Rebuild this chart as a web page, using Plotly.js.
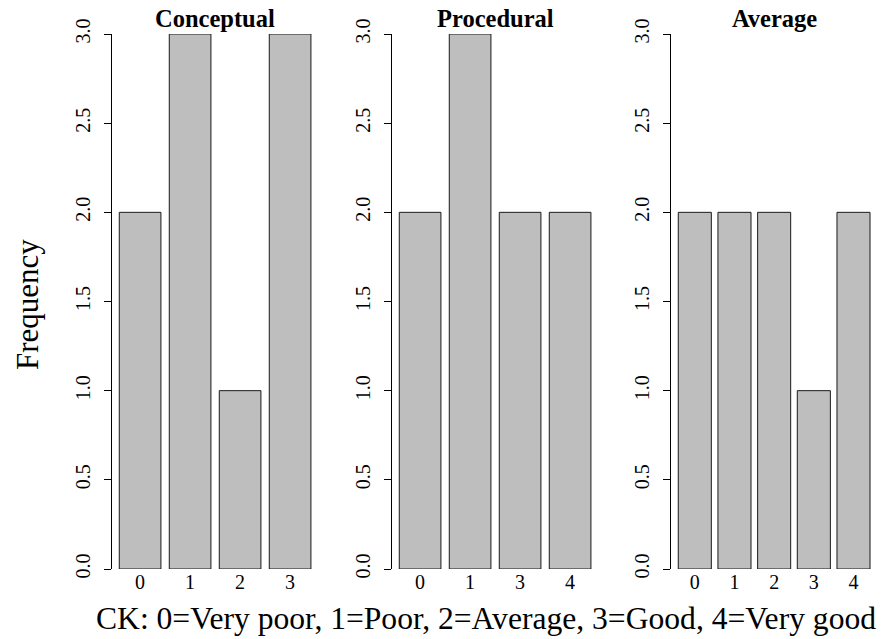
<!DOCTYPE html>
<html>
<head>
<meta charset="utf-8">
<script src="https://cdn.plot.ly/plotly-3.0.1.min.js"></script>
<style>html,body{margin:0;padding:0;background:#fff;}#chart{width:884px;height:639px;}</style>
</head>
<body>
<div id="chart"></div>
<script>
const panelTitles = ['Conceptual', 'Procedural', 'Average'];
const conceptualCats = ['0', '1', '2', '3'];
const conceptualFreq = [2, 3, 1, 3];
const proceduralCats = ['0', '1', '3', '4'];
const proceduralFreq = [2, 3, 2, 2];
const averageCats = ['0', '1', '2', '3', '4'];
const averageFreq = [2, 2, 2, 1, 2];
const yTickVals = [0, 0.5, 1, 1.5, 2, 2.5, 3];
const yAxisTitle = 'Frequency';
const xAxisCaption = 'CK: 0=Very poor, 1=Poor, 2=Average, 3=Good, 4=Very good';

const FONT = 'Liberation Serif';
const W = 884, H = 639;
const panels = [
  {cats: conceptualCats, freq: conceptualFreq, left: 111.6, right: 318.6},
  {cats: proceduralCats, freq: proceduralFreq, left: 391.6, right: 598.6},
  {cats: averageCats, freq: averageFreq, left: 670.6, right: 877.7}
];
const yTopPx = 34, yBotPx = 569;
const yDomain = [(H - yBotPx) / H, (H - yTopPx) / H];

const data = [];
const layout = {
  width: W, height: H,
  margin: {l: 0, r: 0, t: 0, b: 0},
  paper_bgcolor: '#fff', plot_bgcolor: 'rgba(0,0,0,0)',
  showlegend: false,
  font: {family: FONT, color: '#000', size: 20},
  annotations: [],
  shapes: []
};

panels.forEach((p, i) => {
  const sx = i === 0 ? '' : String(i + 1);
  const n = p.cats.length;
  const ext = (n * 1.2 - 0.2) * 0.04 / 1.2;
  data.push({
    type: 'bar',
    x: p.cats,
    y: p.freq,
    xaxis: 'x' + sx,
    yaxis: 'y' + sx,
    width: 1 / 1.2,
    cliponaxis: false,
    marker: {color: '#BEBEBE', line: {color: '#1a1a1a', width: 1}},
    hoverinfo: 'x+y'
  });
  layout['xaxis' + sx] = {
    domain: [p.left / W, p.right / W],
    anchor: 'y' + sx,
    type: 'category',
    range: [-0.5 / 1.2 - ext, (n - 1) + 0.5 / 1.2 + ext],
    showline: false, showgrid: false, zeroline: false,
    ticks: '', ticklabelstandoff: -1,
    tickfont: {family: FONT, size: 20, color: '#000'},
    automargin: false, fixedrange: true
  };
  layout['yaxis' + sx] = {
    domain: yDomain,
    anchor: 'x' + sx,
    range: [0, 3],
    tickvals: yTickVals,
    ticktext: yTickVals.map(v => v.toFixed(1)),
    tickangle: -90,
    ticks: 'outside', ticklen: 7, tickwidth: 1, tickcolor: '#000',
    ticklabelstandoff: 6,
    showline: true, linecolor: '#000', linewidth: 1,
    showgrid: false, zeroline: false,
    tickfont: {family: FONT, size: 20, color: '#000'},
    automargin: false, fixedrange: true
  };
  layout.annotations.push({
    text: '<b>' + panelTitles[i] + '</b>',
    xref: 'paper', yref: 'paper',
    x: (p.left + p.right) / 2 / W, y: (H - 19) / H,
    xanchor: 'center', yanchor: 'middle',
    showarrow: false,
    font: {family: FONT, size: 24.5, color: '#000'}
  });
});

layout.annotations.push({
  text: yAxisTitle,
  xref: 'paper', yref: 'paper',
  x: 27 / W, y: (H - 305) / H,
  xanchor: 'center', yanchor: 'middle',
  textangle: -90,
  showarrow: false,
  font: {family: FONT, size: 31, color: '#000'}
});
layout.annotations.push({
  text: xAxisCaption,
  xref: 'paper', yref: 'paper',
  x: 486 / W, y: (H - 618) / H,
  xanchor: 'center', yanchor: 'middle',
  showarrow: false,
  font: {family: FONT, size: 31.6, color: '#000'}
});

Plotly.newPlot('chart', data, layout, {displayModeBar: false, staticPlot: true});
</script>
</body>
</html>
